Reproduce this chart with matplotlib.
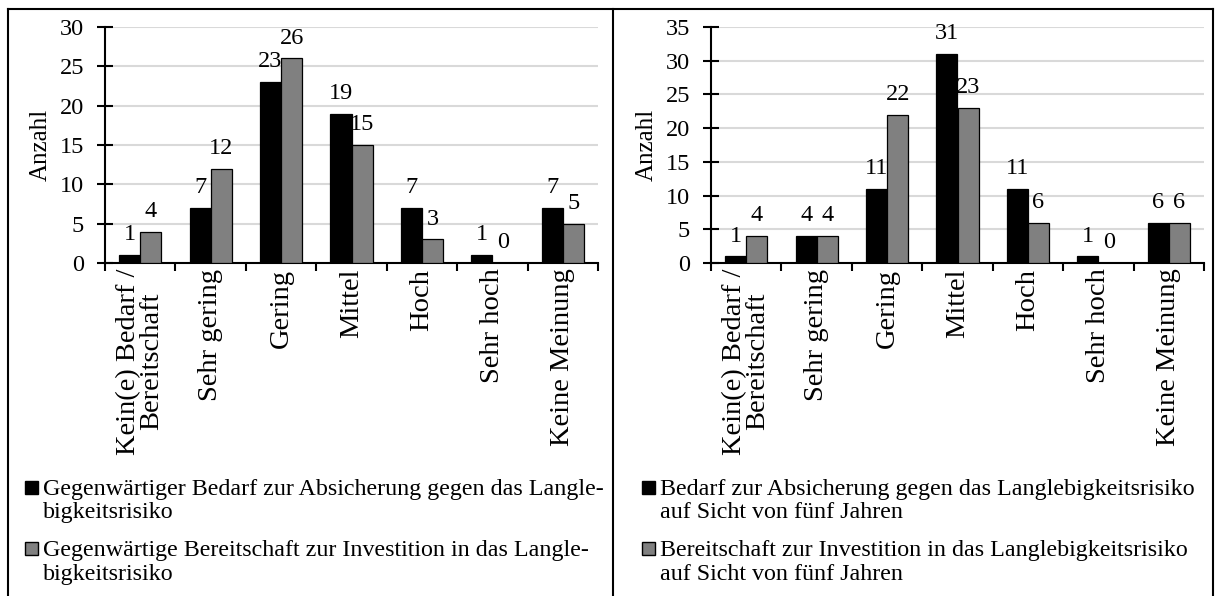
import matplotlib.pyplot as plt
import numpy as np
from matplotlib.lines import Line2D
from matplotlib.patches import Rectangle

plt.rcParams['font.family'] = ['Liberation Serif', 'DejaVu Serif']

categories = ['Kein(e) Bedarf /\nBereitschaft', 'Sehr gering', 'Gering',
              'Mittel', 'Hoch', 'Sehr hoch', 'Keine Meinung']

# left panel: gegenwaertig
bedarf_now = [1, 7, 23, 19, 7, 1, 7]
bereit_now = [4, 12, 26, 15, 3, 0, 5]
legend_now = [['Gegenwärtiger Bedarf zur Absicherung gegen das Langle-', 'bigkeitsrisiko'],
              ['Gegenwärtige Bereitschaft zur Investition in das Langle-', 'bigkeitsrisiko']]

# right panel: in fuenf Jahren
bedarf_5y = [1, 4, 11, 31, 11, 1, 6]
bereit_5y = [4, 4, 22, 23, 6, 0, 6]
legend_5y = [['Bedarf zur Absicherung gegen das Langlebigkeitsrisiko', 'auf Sicht von fünf Jahren'],
             ['Bereitschaft zur Investition in das Langlebigkeitsrisiko', 'auf Sicht von fünf Jahren']]

colors = ['black', '#808080']

W, H = 1217, 596
fig = plt.figure(figsize=(W / 100, H / 100), dpi=100)


def px(x, y):
    # pixel position (from top-left) -> figure fraction
    return x / W, 1 - y / H


def draw_panel(x0, x1, black, gray, ymax, leg, leg_x):
    ax = fig.add_axes([x0 / W, 1 - 263 / H, (x1 - x0) / W, 236 / H])
    x = np.arange(len(categories))
    w = 0.3
    b1 = ax.bar(x - w / 2, black, w, color=colors[0], edgecolor='black', linewidth=0.9, zorder=3)
    b2 = ax.bar(x + w / 2, gray, w, color=colors[1], edgecolor='black', linewidth=0.9, zorder=3)
    for bars, vals in ((b1, black), (b2, gray)):
        for r, v in zip(bars, vals):
            ax.annotate(str(v), (r.get_x() + r.get_width() / 2, v),
                        xytext=(0, 7), textcoords='offset points',
                        ha='center', va='bottom', fontsize=17.5)
    ax.set_xlim(-0.5, len(categories) - 0.5)
    ax.set_ylim(0, ymax)
    ax.set_yticks(range(0, ymax + 1, 5))
    ax.yaxis.grid(True, color='#d9d9d9', linewidth=1.5, zorder=0)
    ax.set_axisbelow(True)
    for s in ('top', 'right'):
        ax.spines[s].set_visible(False)
    ax.spines['left'].set_linewidth(1.5)
    ax.spines['bottom'].set_linewidth(1.5)
    ax.set_xticks(np.arange(-0.5, len(categories), 1.0))
    ax.set_xticklabels([])
    ax.set_xticks(x, minor=True)
    ax.set_xticklabels(categories, minor=True, rotation=90, fontsize=20.5,
                       va='top', ha='center', linespacing=0.9)
    ax.tick_params(axis='x', which='major', length=6, width=1.5, direction='out')
    ax.tick_params(axis='x', which='minor', length=0, pad=4)
    ax.tick_params(axis='y', length=12, width=1.5, direction='inout',
                   labelsize=17.5, pad=9)
    ax.set_ylabel('Anzahl', fontsize=18, labelpad=6)

    # legend, first line aligned with the marker
    ys = [[487, 510], [548, 572]]
    for (l1, l2), (y1, y2), c in zip(leg, ys, colors):
        fig.add_artist(Rectangle(px(leg_x, y1 + 6.5), 13 / W, 13 / H,
                                 facecolor=c, edgecolor='black', linewidth=1,
                                 transform=fig.transFigure))
        fig.text(*px(leg_x + 18, y1), l1, fontsize=17.3, va='center_baseline', ha='left')
        fig.text(*px(leg_x + 18, y2), l2, fontsize=17.3, va='center_baseline', ha='left')
    return ax


draw_panel(105, 598, bedarf_now, bereit_now, 30, legend_now, 25)
draw_panel(711, 1204, bedarf_5y, bereit_5y, 35, legend_5y, 642)

# frame lines around the two panels
top = 1 - 9 / H
for xs, ys in (([8 / W, 1213 / W], [top, top]),
               ([8 / W, 8 / W], [0, top]),
               ([613 / W, 613 / W], [0, top]),
               ([1213 / W, 1213 / W], [0, top])):
    fig.add_artist(Line2D(xs, ys, color='black', linewidth=1.5))

fig.savefig('out.png', dpi=100)
